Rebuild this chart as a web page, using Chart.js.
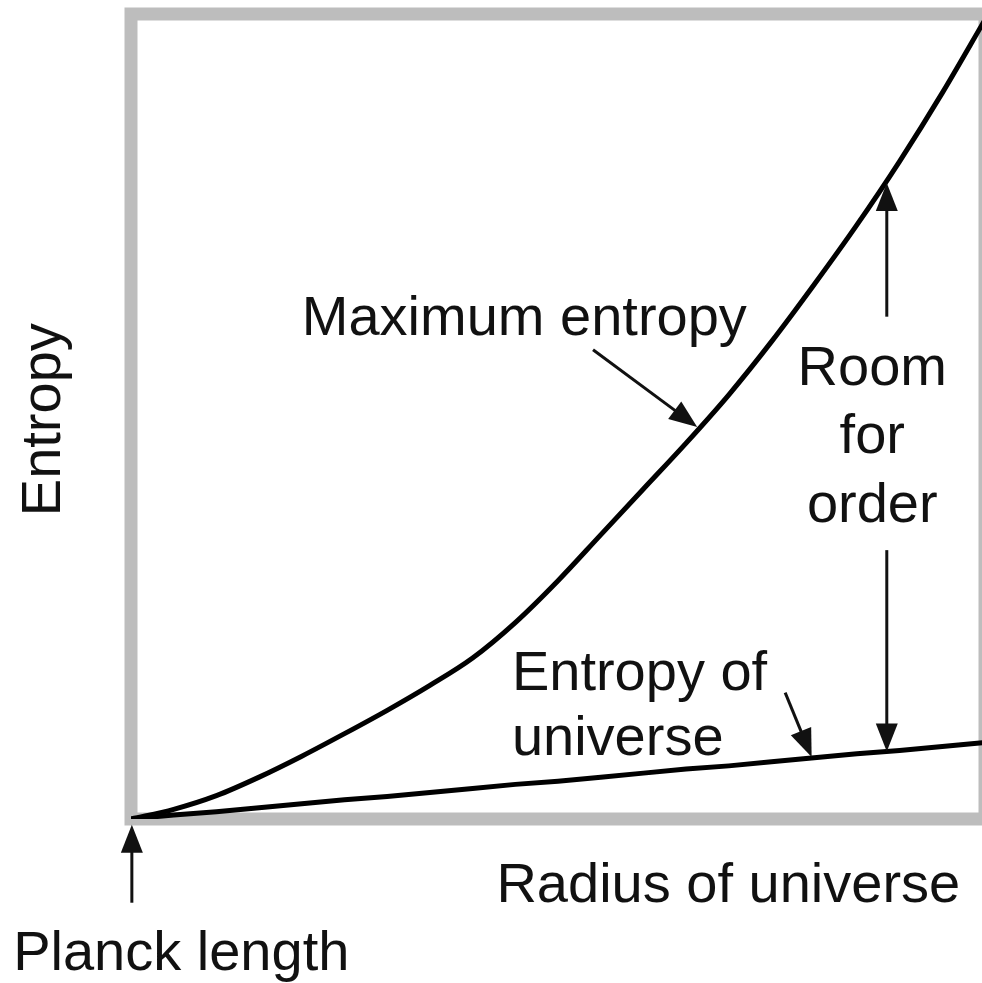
<!DOCTYPE html>
<html>
<head>
<meta charset="utf-8">
<script src="https://cdn.jsdelivr.net/npm/chart.js@4"></script>
<style>
  html, body { margin: 0; padding: 0; background: #fff; overflow: hidden; }
  canvas { display: block; }
</style>
</head>
<body>
<canvas id="entropyChart" width="990" height="983"></canvas>
<script>
// radius of universe (arbitrary units, Planck length at 0)
const radius = [0, 5, 10, 15, 20, 25, 30, 35, 40, 45, 50, 55, 60, 65, 70, 75, 80, 85, 90, 95, 100];
// upper bound on entropy for a region of that radius
const maxEntropy = [0, 1.2, 2.9, 5.2, 7.8, 10.6, 13.5, 16.6, 20.0, 24.4, 29.6, 35.3, 41.0, 46.7, 52.7, 59.3, 66.4, 73.8, 81.7, 90.2, 99.3];
// actual entropy of the universe
const universeEntropy = [0, 0.5, 0.9, 1.4, 1.9, 2.4, 2.8, 3.3, 3.8, 4.3, 4.7, 5.2, 5.7, 6.2, 6.6, 7.1, 7.6, 8.1, 8.5, 9.0, 9.5];

const FONT = '"Liberation Sans", Arial, Helvetica, sans-serif';

function pts(xs, ys) {
    return xs.map((x, i) => ({ x: x, y: ys[i] }));
}

function arrow(ctx, x1, y1, x2, y2) {
    const a = Math.atan2(y2 - y1, x2 - x1);
    const len = 28, half = 11;
    ctx.beginPath();
    ctx.moveTo(x1, y1);
    ctx.lineTo(x2 - Math.cos(a) * (len - 4), y2 - Math.sin(a) * (len - 4));
    ctx.stroke();
    ctx.beginPath();
    ctx.moveTo(x2, y2);
    ctx.lineTo(x2 - Math.cos(a) * len - Math.sin(a) * half, y2 - Math.sin(a) * len + Math.cos(a) * half);
    ctx.lineTo(x2 - Math.cos(a) * len + Math.sin(a) * half, y2 - Math.sin(a) * len - Math.cos(a) * half);
    ctx.closePath();
    ctx.fill();
}

// grey box around the plot area
const framePlugin = {
    id: "frame",
    beforeDatasetsDraw(chart) {
        const { ctx, chartArea: a } = chart;
        ctx.save();
        ctx.strokeStyle = "#bdbdbd";
        ctx.lineWidth = 13;
        ctx.strokeRect(a.left, a.top, a.right - a.left, a.bottom - a.top);
        ctx.restore();
    }
};

// labels and pointer arrows, placed in data units
const notesPlugin = {
    id: "notes",
    afterDatasetsDraw(chart) {
        const { ctx } = chart;
        const sx = chart.scales.x, sy = chart.scales.y;
        const X = v => sx.getPixelForValue(v);
        const Y = v => sy.getPixelForValue(v);

        ctx.save();
        ctx.fillStyle = "#111";
        ctx.strokeStyle = "#111";
        ctx.lineWidth = 3;
        ctx.lineCap = "butt";

        arrow(ctx, X(54.1), Y(58.3), X(66.3), Y(48.7));   // to maximum entropy curve
        arrow(ctx, X(88.5), Y(62.4), X(88.5), Y(79.0));   // room for order, up
        arrow(ctx, X(88.5), Y(33.4), X(88.5), Y(8.4));    // room for order, down
        arrow(ctx, X(76.6), Y(15.7), X(79.7), Y(7.7));    // to universe line
        arrow(ctx, X(0.1), Y(-10.4), X(0.1), Y(-0.7));    // Planck length

        ctx.font = "56px " + FONT;
        ctx.textBaseline = "alphabetic";

        ctx.textAlign = "left";
        ctx.fillText("Maximum entropy", X(20.0), Y(60.1));
        ctx.fillText("Entropy of", X(44.6), Y(16.0));
        ctx.fillText("universe", X(44.6), Y(8.0));
        ctx.fillText("Planck length", X(-13.8), Y(-18.8));

        ctx.textAlign = "center";
        ctx.fillText("Room", X(86.8), Y(53.9));
        ctx.fillText("for", X(86.8), Y(45.5));
        ctx.fillText("order", X(86.8), Y(36.9));

        ctx.textAlign = "right";
        ctx.fillText("Radius of universe", X(97.1), Y(-10.3));

        // y-axis title, reading upwards
        ctx.translate(X(-8.3), Y(49.6));
        ctx.rotate(-Math.PI / 2);
        ctx.textAlign = "center";
        ctx.fillText("Entropy", 0, 0);
        ctx.restore();
    }
};

const ctx = document.getElementById("entropyChart").getContext("2d");

new Chart(ctx, {
    type: "line",
    data: {
        datasets: [{
            label: "Maximum entropy",
            data: pts(radius, maxEntropy),
            borderColor: "#000",
            borderWidth: 5,
            pointRadius: 0,
            cubicInterpolationMode: "monotone",
            fill: false
        }, {
            label: "Entropy of universe",
            data: pts(radius, universeEntropy),
            borderColor: "#000",
            borderWidth: 5,
            pointRadius: 0,
            tension: 0,
            fill: false
        }]
    },
    options: {
        responsive: false,
        animation: false,
        layout: {
            padding: { left: 131, top: 14, right: 5, bottom: 164 }
        },
        plugins: {
            legend: { display: false },
            tooltip: { enabled: false }
        },
        scales: {
            x: { type: "linear", min: 0, max: 100, display: false },
            y: { type: "linear", min: 0, max: 100, display: false }
        }
    },
    plugins: [framePlugin, notesPlugin]
});
</script>
</body>
</html>
